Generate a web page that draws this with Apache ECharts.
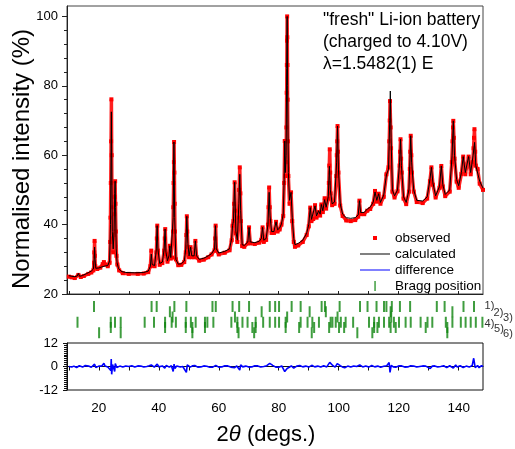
<!DOCTYPE html>
<html>
<head>
<meta charset="utf-8">
<script src="https://cdn.jsdelivr.net/npm/echarts@6/dist/echarts.min.js"></script>
<style>
html,body{margin:0;padding:0;background:#fff}
#main{width:515px;height:449px}
</style>
</head>
<body>
<div id="main"></div>
<script>
// observed profile (2theta, intensity)
var observed = [[10,25.0],[11,24.8],[12,24.6],[13.2,25.5],[14,24.9],[15,25.2],[16.5,25.8],[17.5,26.2],[18.2,26.8],[18.4,29],[18.5,32],[18.6,35.3],[18.7,31],[18.85,28],[19.5,27.2],[20.5,27.6],[21.3,28.6],[21.7,29.2],[22.3,28.5],[23,28],[23.6,29],[23.8,35],[23.9,42],[24.0,52],[24.1,64],[24.2,76.1],[24.3,60],[24.4,45],[24.55,36],[24.8,32],[25.1,37],[25.2,43],[25.3,48],[25.45,52.5],[25.55,46],[25.7,38],[25.9,31],[26.2,28.5],[26.8,26.8],[28,26],[30,25.8],[33,25.8],[35,25.9],[36.5,26.3],[37.2,28],[37.5,32.5],[37.8,28.2],[38.6,28],[39.2,32],[39.35,36],[39.5,39.7],[39.7,32.5],[40.3,28.4],[41.2,28.9],[41.8,32.5],[42.0,36],[42.15,38.7],[42.4,31.5],[42.9,29.3],[43.4,30.6],[43.7,33.9],[44,30.2],[44.5,30.5],[44.75,38],[44.85,45],[44.95,52],[45.05,58],[45.1,63.8],[45.2,55],[45.3,46],[45.4,38],[45.7,30],[46.5,28.3],[47.5,28.4],[48.5,29.2],[49,32],[49.2,37],[49.35,42.4],[49.5,38],[49.7,33.5],[50.1,30.6],[50.6,33.5],[51,30.6],[51.8,30.6],[52.2,35.3],[52.6,30.6],[53.5,29.6],[55,29.9],[56.5,30.6],[57.6,31.4],[58.6,32.6],[58.8,36],[58.95,39.7],[59.2,32.5],[60,31.4],[62,31.9],[63.6,32.6],[64.3,35.5],[64.6,39.7],[64.9,41],[65.1,46],[65.3,52.2],[65.5,44],[65.7,37.5],[66.2,35],[66.6,42],[66.8,50],[67.0,56.5],[67.2,49],[67.4,41],[67.8,33.8],[68.5,33.6],[69.7,34.6],[70.1,39.2],[70.5,34.6],[72,34.4],[73.5,34.8],[74.2,35.6],[74.6,39.2],[75,35],[75.8,35.6],[76.4,40],[76.6,45],[76.8,50.7],[77.0,45],[77.2,41],[77.6,37.6],[78.4,37.6],[79.1,40.8],[79.6,38],[80.3,38.6],[80.9,40],[81.5,42.5],[81.8,52],[82.0,64.1],[82.2,54],[82.45,58],[82.55,68],[82.65,78],[82.7,86],[82.75,93],[82.8,100],[82.85,94],[82.9,86],[82.95,76],[83.05,64],[83.2,54],[83.6,46],[84.1,49.3],[84.5,41],[85,35],[85.4,33.6],[86.5,34],[88,35],[89.3,37],[90,39.5],[90.5,44.9],[90.9,41],[91.5,41.6],[92.1,45.6],[92.6,42],[93.3,43.6],[93.8,42.6],[94.2,45.8],[94.7,43.6],[95.3,47.6],[95.8,44.6],[96.5,47.5],[96.7,52],[96.85,57],[97.0,61.7],[97.15,55],[97.3,49],[97.8,45.6],[98.6,46],[99.2,54],[99.35,60],[99.5,64],[99.6,68.4],[99.75,61],[99.9,55],[100.5,45.5],[101.3,42.5],[102.5,41.2],[104,41],[105.5,41.3],[106.5,42.3],[106.9,46.9],[107.3,43],[108.5,43],[109.5,44],[110.5,44.5],[111.5,46],[112.1,49.7],[112.7,46.6],[113.3,48.9],[113.9,46],[115,48],[115.9,54.5],[116.6,56.5],[116.85,64],[117.0,70],[117.1,75.6],[117.3,68],[117.45,62],[117.9,49.5],[118.6,47.8],[119.6,49.6],[120.3,57],[120.45,61],[120.6,64.6],[120.8,59],[121,55],[121.6,47.5],[122.5,45.9],[123.4,49.5],[123.7,56],[123.85,61],[124.0,65.6],[124.2,60],[124.4,55],[125,49.5],[126,46.5],[128,46.2],[129.5,47.5],[130.4,52.5],[130.9,56.5],[131.4,51.5],[132.3,47.8],[133.6,50.6],[134.2,56.9],[134.7,51],[135.5,48.2],[137,49.5],[137.7,58],[137.95,64],[138.1,68],[138.2,69.9],[138.4,65],[138.6,59],[139.3,52.4],[140,50.6],[140.9,54.6],[141.5,59.6],[142.2,54.5],[143.3,59.6],[144,54.5],[144.7,58],[144.95,62],[145.1,65],[145.25,67.5],[145.5,61],[145.7,57],[146.3,56],[147,51.8],[148.1,50]];

// calculated profile
var calculated = [[10,25.3],[11,25.1],[12,25.0],[12.8,25.2],[13.2,25.9],[13.6,25.1],[14.5,25.3],[16,25.9],[17.5,26.6],[18.2,27.2],[18.45,30],[18.6,33.5],[18.75,30],[19,27.4],[20,27.5],[21,27.8],[21.6,28.3],[22.2,28.1],[23,28.2],[23.6,29.5],[23.9,40],[24.1,62],[24.2,72.5],[24.3,60],[24.5,38],[24.8,33],[25.1,38],[25.3,49],[25.45,52.5],[25.6,45],[25.8,33],[26.1,29],[26.6,27.3],[27.5,26.5],[29,26.2],[32,26.1],[35,26.2],[36.5,26.6],[37.2,28],[37.5,31.5],[37.8,28.5],[38.6,28.2],[39.2,33],[39.45,39.7],[39.7,33],[40.3,28.8],[41.2,29.2],[41.8,33],[42.1,38.7],[42.4,32],[42.9,29.6],[43.4,31],[43.7,33.9],[44,30.5],[44.5,30.8],[44.8,42],[45.05,63.8],[45.3,42],[45.7,30],[46.5,28.6],[47.5,28.7],[48.5,29.5],[49,33],[49.35,42.4],[49.7,34.5],[50.1,31],[50.6,33.5],[51,31],[51.8,31],[52.2,35.3],[52.6,31],[53.5,30],[55,30.3],[56.5,31],[57.6,31.6],[58.6,33],[58.9,39.7],[59.2,33],[60,31.8],[62,32.3],[63.6,33],[64.3,36],[64.6,39.7],[64.9,41],[65.3,52.2],[65.7,38],[66.2,35.5],[66.7,46],[67,54.5],[67.3,44],[67.8,34.2],[68.5,34],[69.7,35],[70.1,39.2],[70.5,35],[72,34.8],[73.5,35.2],[74.2,36],[74.6,39.2],[75,35.5],[75.8,36],[76.4,40],[76.8,49.3],[77.1,42.5],[77.6,38],[78.4,38],[79.1,40.8],[79.6,38.5],[80.3,39],[80.9,40.2],[81.5,43],[81.8,53],[82.0,64.1],[82.2,55],[82.45,60],[82.65,85],[82.8,100],[82.95,80],[83.2,55],[83.6,47],[84.1,49.3],[84.5,42],[85,36],[85.4,34.2],[86.5,34.6],[88,35.5],[89.3,37.5],[90,40],[90.5,44.9],[90.9,41.5],[91.5,42],[92.1,45.4],[92.6,42.5],[93.3,44],[93.8,43],[94.2,45.8],[94.7,44],[95.3,47.2],[95.8,45],[96.5,48],[96.9,56.8],[97.2,50],[97.8,46],[98.6,46.5],[99.3,58],[99.6,68.4],[99.9,56],[100.5,46],[101.3,43],[102.5,42],[104,41.8],[105.5,42],[106.5,42.8],[106.9,46.9],[107.3,43.5],[108.5,43.5],[109.5,44.5],[110.5,45],[111.5,46.5],[112.1,49.4],[112.7,47],[113.3,48.9],[113.9,46.4],[115,48.5],[115.9,54.3],[116.6,56],[117.0,70],[117.2,78.5],[117.45,65],[117.9,50],[118.6,48.3],[119.6,50],[120.3,58],[120.6,64.6],[120.9,57],[121.6,48],[122.5,46.4],[123.4,50],[123.8,60],[124.0,65.6],[124.3,58],[125,50],[126,47],[128,46.8],[129.5,48],[130.4,53],[130.9,56.5],[131.4,52],[132.3,48.3],[133.6,51],[134.2,56.9],[134.7,51.5],[135.5,48.7],[137,50],[137.8,60],[138.2,69.9],[138.6,60],[139.3,53],[140,51.2],[140.9,55],[141.5,59.6],[142.2,55],[143.3,59.6],[144,55],[144.8,60],[145.3,63.7],[145.7,57],[146.3,56.8],[147,52.5],[148.1,50.5]];

// observed - calculated
var difference = [[10,0],[10.6,0.5],[11,-0.3],[11.7,0.2],[12,0.4],[12.6,-0.5],[13,-0.2],[13.5,0.4],[14,0.3],[14.6,-0.3],[15,0],[15.5,0.5],[16,-0.4],[16.6,0.2],[17,0.3],[17.5,-0.4],[18,0],[18.6,1.2],[19,-0.5],[19.5,0.3],[20,0.2],[20.5,-0.4],[21,0.3],[21.7,1.6],[22.1,0.2],[22.5,0.5],[23,-0.3],[23.5,-0.2],[24.0,-2],[24.15,3.8],[24.3,-4],[24.6,1],[25.3,-2.5],[25.5,1.5],[26,-0.5],[26.5,0.3],[27,0.2],[27.5,-0.4],[28,-0.3],[29,0.3],[30,0],[31,0.4],[32,-0.2],[33,0.3],[34,0.2],[35,-0.3],[36,0],[36.8,0.4],[37.5,0.8],[38,-0.2],[38.5,-0.3],[39,0.5],[39.5,1.2],[40,-0.2],[40.5,-0.4],[41.2,0.3],[42,-0.8],[42.5,0.6],[43,-0.2],[43.5,-0.3],[44.2,0.4],[44.8,-2.5],[45.1,1.2],[45.4,-1],[46,0.3],[46.5,0.2],[47.2,-0.3],[48,0],[48.6,0.4],[49.2,-3],[49.5,0.8],[50,-0.2],[50.5,-0.3],[51.2,0.3],[52,0.5],[53,-0.3],[54,-0.2],[55,0.3],[56,0.1],[57,-0.4],[58,-0.3],[59,0.6],[60,-0.3],[61,-0.2],[62,0.4],[63,0.3],[64,-0.3],[65.3,-0.6],[66,0.3],[67,-1.8],[67.3,0.8],[68,-0.2],[69,0.2],[70,-0.3],[71,-0.2],[72,0.4],[73,0.3],[74,-0.3],[75,0],[76,0.4],[77,1.6],[78,0.6],[79,-0.3],[80,-0.4],[81,0.3],[82,-2.6],[82.8,-1],[83.5,-0.4],[84.2,0.3],[85,-0.8],[86,0.2],[87,0.5],[88,-0.2],[89,0.2],[90,-0.3],[91,0.6],[92,-0.2],[93,0.2],[94,-0.3],[95,0.4],[96,-0.2],[97,2.1],[98,0.5],[98.8,-0.3],[99.5,1.5],[100.5,0.4],[101.2,-0.2],[102,-0.6],[103,0.2],[104,-0.3],[105,0.3],[106,0],[107,0.8],[108,-0.2],[109,0.3],[110,-0.3],[111,0.5],[112,-0.2],[113,0.2],[114,-0.4],[115,0.1],[116,0.4],[116.8,2],[117.1,-3],[117.5,0.6],[118.2,-0.2],[119,-0.4],[120,0.3],[121,0.3],[122,-0.3],[123,-0.2],[124,0.4],[125,0.2],[126,-0.3],[127,0],[128,0.3],[129,0.2],[130.5,-1],[131.2,0.2],[132,0.3],[133,-0.3],[134,0],[135,0.4],[136,-0.6],[137,0.4],[137.6,-0.4],[138.2,-0.8],[139,0.8],[139.5,-0.3],[140,-1.2],[140.5,0.4],[141,0.5],[141.5,-0.5],[142,-1.5],[142.5,0.2],[143,0.8],[143.5,-0.3],[144,-1],[144.5,0.5],[145,4.2],[145.5,-0.6],[145.9,0.3],[146.3,0.5],[146.8,-0.6],[147.2,-0.3],[147.6,0.4],[148.1,0]];

// Bragg reflection positions, one list per phase
var phase1 = [18.4,37.6,39.3,45.2,49.2,57.9,59.0,64.6,66.8,70.1,77.0,78.8,80.1,84.3,87.3,94.3,95.4,100.3,107.1,109.6,112.6,115.1,115.9,117.7,120.4,123.8,132.7,135.3,141.6,145.1];
var phase2 = [43.7,74.3,90.3,95.7,117.3,137.9];
var phase3 = [44.6,65.4,82.8,99.6,117.5];
var phase4 = [12.9,24.0,25.4,27.3,35.3,38.4,42.1,44.3,45.7,49.0,50.7,52.3,55.4,56.2,58.2,64.2,66.2,67.9,69.6,72.3,74.8,77.0,78.8,80.1,82.3,87.3,89.6,91.2,93.4,97.3,97.9,99.0,100.7,102.3,104.8,110.1,111.8,113.4,115.1,116.8,118.4,120.1,122.3,124.0,127.3,129.6,131.2,135.7,137.9,140.7,142.3,144.0,145.7,147.9];
var phase5 = [24.0,42.1,49.0,51.2,55.4,66.2,71.2,72.3,82.3,86.8,91.8,96.8,100.1,101.8,111.8,112.9,117.3,119.0,129.0,136.2];
var phase6 = [20.1,27.3,51.2,66.6,71.8,91.0,106.2,111.2,136.2];

var phaseNames = ['1)', '2)', '3)', '4)', '5)', '6)'];
var xTicks = [10,20,30,40,50,60,70,80,90,100,110,120,130,140];
var xLabels = [20,40,60,80,100,120,140];
var yLabels = [20,40,60,80,100];
var yMinor = [24,28,32,36,44,48,52,56,64,68,72,76,84,88,92,96];

var FONT = 'Liberation Sans, Arial, sans-serif';
var X_MIN = 9.4, X_MAX = 148.1;

var chart = echarts.init(document.getElementById('main'));

var bragg = [];
[phase1, phase2, phase3, phase4, phase5, phase6].forEach(function (row, i) {
	row.forEach(function (x) {
		bragg.push([x, i + 1]);
	});
});

// little labels 1) ... 6) at the right of the tick rows
var labelPos = [[489.5, 306], [498.5, 313], [508, 318], [489.5, 323.5], [499, 328.5], [508, 334]];
var phaseLabels = phaseNames.map(function (t, i) {
	return {
		type: 'text', x: labelPos[i][0], y: labelPos[i][1], silent: true,
		style: {text: t, fontSize: 11, fontFamily: FONT, fill: '#333', align: 'center', verticalAlign: 'middle'}
	};
});

var option = {
	animation: false,
	backgroundColor: '#fff',
	textStyle: {fontFamily: FONT},
	grid: [
		{left: 67, top: 6, width: 416, height: 288, show: true, borderColor: '#444', borderWidth: 1, outerBoundsMode: 'none'},
		{left: 67, top: 301.25, width: 416, height: 36.75, outerBoundsMode: 'none'},
		{left: 67, top: 343, width: 416, height: 47, show: true, borderColor: '#111', borderWidth: 1, outerBoundsMode: 'none'}
	],
	xAxis: [{
		gridIndex: 0, type: 'value', min: X_MIN, max: X_MAX,
		axisLine: {lineStyle: {color: '#222'}},
		axisTick: {inside: true, length: 3, customValues: xTicks, lineStyle: {color: '#222'}},
		axisLabel: {show: false},
		splitLine: {show: false}
	}, {
		gridIndex: 1, type: 'value', min: X_MIN, max: X_MAX, show: false
	}, {
		gridIndex: 2, type: 'value', min: X_MIN, max: X_MAX,
		axisLine: {lineStyle: {color: '#111'}},
		axisTick: {length: 4, customValues: xTicks, lineStyle: {color: '#111'}},
		axisLabel: {customValues: xLabels, fontSize: 13.5, color: '#000', margin: 11},
		splitLine: {show: false}
	}],
	yAxis: [{
		gridIndex: 0, type: 'value', position: 'left', min: 20, max: 103,
		axisLine: {show: true, lineStyle: {color: '#222'}},
		axisTick: {length: 5, customValues: yLabels, lineStyle: {color: '#222'}},
		axisLabel: {customValues: yLabels, fontSize: 13, color: '#000', margin: 9},
		splitLine: {show: false}
	}, {
		gridIndex: 0, type: 'value', position: 'left', min: 20, max: 103,
		axisLine: {show: false},
		axisTick: {length: 3, customValues: yMinor, lineStyle: {color: '#222'}},
		axisLabel: {show: false},
		splitLine: {show: false}
	}, {
		gridIndex: 1, type: 'value', min: 0, max: 7, inverse: true, show: false
	}, {
		gridIndex: 2, type: 'value', position: 'left', min: -12, max: 12, interval: 12,
		axisLine: {show: true, lineStyle: {color: '#111'}},
		axisTick: {length: 4, lineStyle: {color: '#111'}},
		minorTick: {show: true, splitNumber: 12, length: 3, lineStyle: {color: '#111'}},
		axisLabel: {fontSize: 13, color: '#000', margin: 9},
		splitLine: {show: false}
	}],
	legend: {
		orient: 'vertical',
		left: 355,
		top: 225,
		itemWidth: 30,
		itemHeight: 10,
		itemGap: 0,
		selectedMode: false,
		textStyle: {fontSize: 13.5, color: '#000', lineHeight: 16, fontFamily: FONT},
		data: [
			{name: 'observed', icon: 'path://M0,0M30,10M13,3h4v4h-4z', itemStyle: {borderWidth: 0}},
			{name: 'calculated', icon: 'path://M0,0M30,10M0,4.5h30v1h-30z', itemStyle: {borderWidth: 0}},
			{name: 'difference', icon: 'path://M0,0M30,10M0,4.5h30v1h-30z', itemStyle: {borderWidth: 0}},
			{name: 'Bragg position', icon: 'path://M0,0M30,10M14.3,0h1.5v10h-1.5z', itemStyle: {borderWidth: 0}}
		]
	},
	graphic: [{
		type: 'text', x: 22, y: 159, rotation: Math.PI / 2, silent: true,
		style: {text: 'Normalised intensity (%)', fontSize: 24, fontFamily: FONT, fill: '#000', align: 'center', verticalAlign: 'middle'}
	}, {
		type: 'text', x: 266, y: 435, silent: true,
		style: {
			text: '{a|2}{b|θ}{a| (degs.)}', fill: '#000', align: 'center', verticalAlign: 'middle',
			rich: {
				a: {fontSize: 22, fontFamily: FONT, fill: '#000'},
				b: {fontSize: 22, fontFamily: FONT, fontStyle: 'italic', fill: '#000'}
			}
		}
	}, {
		type: 'text', x: 323, y: 20, silent: true,
		style: {text: '"fresh" Li-ion battery', fontSize: 17.5, fontFamily: FONT, fill: '#000', align: 'left', verticalAlign: 'middle'}
	}, {
		type: 'text', x: 323, y: 42.5, silent: true,
		style: {text: '(charged to 4.10V)', fontSize: 17.5, fontFamily: FONT, fill: '#000', align: 'left', verticalAlign: 'middle'}
	}, {
		type: 'text', x: 323, y: 64, silent: true,
		style: {text: 'λ=1.5482(1) E', fontSize: 17.5, fontFamily: FONT, fill: '#000', align: 'left', verticalAlign: 'middle'}
	}].concat(phaseLabels),
	series: [{
		name: 'observed',
		type: 'line',
		xAxisIndex: 0, yAxisIndex: 0,
		data: observed,
		color: '#ff0000',
		symbol: 'rect',
		symbolSize: 4,
		showSymbol: true,
		lineStyle: {color: '#ff2020', width: 3.5},
		z: 2
	}, {
		name: 'calculated',
		type: 'line',
		xAxisIndex: 0, yAxisIndex: 0,
		data: calculated,
		color: '#000',
		showSymbol: false,
		symbol: 'none',
		lineStyle: {color: '#000', width: 1},
		z: 3
	}, {
		name: 'Bragg position',
		type: 'scatter',
		xAxisIndex: 1, yAxisIndex: 2,
		data: bragg,
		color: '#0f850f',
		symbol: 'rect',
		symbolSize: [2, 11]
	}, {
		name: 'difference',
		type: 'line',
		xAxisIndex: 2, yAxisIndex: 3,
		data: difference,
		color: '#0000ff',
		showSymbol: false,
		symbol: 'none',
		lineStyle: {color: '#0000ff', width: 1.6}
	}]
};
chart.setOption(option);
</script>
</body>
</html>
